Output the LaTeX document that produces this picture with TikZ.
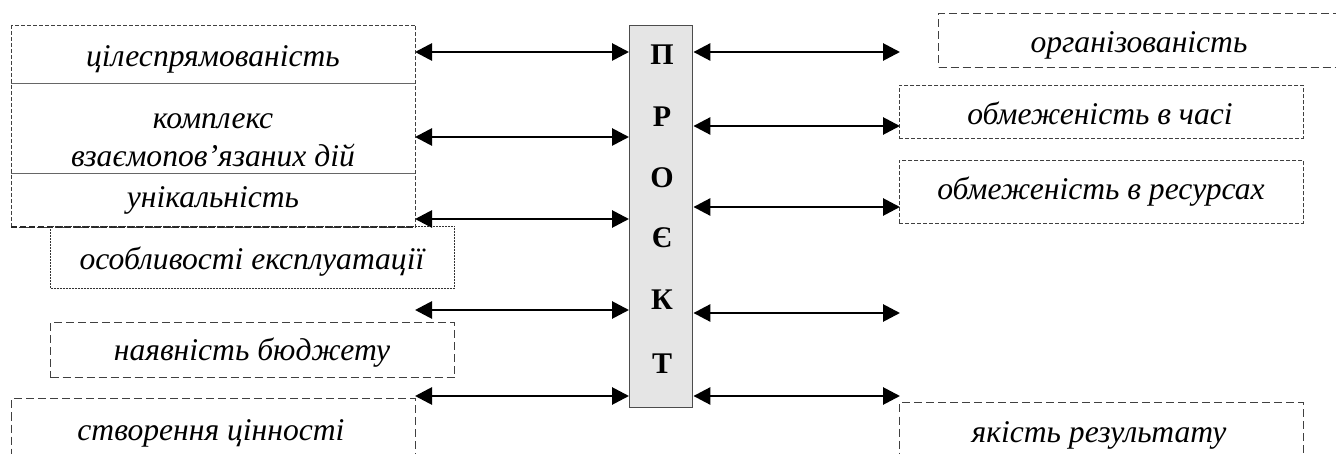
\documentclass[tikz,border=0pt]{standalone}
\usepackage{fontspec}
\setmainfont{Liberation Serif}
\usetikzlibrary{arrows.meta}
\begin{document}
\begin{tikzpicture}[x=1pt,y=-1pt,
  bx/.style={draw=none,inner sep=0pt,anchor=north west},
  lbl/.style={font=\fontsize{31.6}{38}\selectfont\itshape,align=center,inner sep=0pt,anchor=base},
  ltr/.style={font=\fontsize{30}{32}\selectfont\bfseries,inner sep=0pt,anchor=base},
  finedash/.style={draw=black!75,line width=0.9pt,dash pattern=on 4pt off 2pt},
  medash/.style={draw=black!75,line width=1pt,dash pattern=on 8pt off 4pt},
  dotline/.style={draw=black!80,line width=1pt,dash pattern=on 2pt off 1pt},
  bolddash/.style={draw=black!85,line width=2pt,dash pattern=on 6pt off 3pt},
  sep/.style={draw=black!60,line width=1pt},
  dbl/.style={line width=2.8pt,{Triangle[length=17pt,width=17pt]}-{Triangle[length=17pt,width=17pt]}}
]
\clip (0,0) rectangle (1336,454);
\fill[white] (0,0) rectangle (1336,454);

% center box
\node[bx,draw=black!70,fill=black!10,line width=1.4pt,minimum width=63pt,minimum height=382pt] (proj) at (629,25) {};
\node[ltr] (t1) at (662,65) {П};
\node[ltr] (t2) at (662,127) {Р};
\node[ltr] (t3) at (662,188) {О};
\node[ltr] (t4) at (662,248) {Є};
\node[ltr] (t5) at (662,310) {К};
\node[ltr] (t6) at (662,373) {Т};

% left boxes
\node[bx,minimum width=404pt,minimum height=58pt] (A) at (11,25) {};
\node[bx,minimum width=404pt,minimum height=90pt] (B) at (11,83) {};
\node[bx,minimum width=404pt,minimum height=54pt] (C) at (11,173) {};
\draw[finedash] (A.north west) rectangle (C.south east);
\draw[sep] (A.south west) -- (A.south east);
\draw[sep] (B.south west) -- (B.south east);
\draw[bolddash] (C.south west) -- (C.south east);
\node[lbl] (la) at (213,67) {цілеспрямованість};
\node[lbl,anchor=center] (lb) at (213,140) {комплекс\\взаємопов’язаних дій};
\node[lbl] (lc) at (213,208) {унікальність};

\node[bx,dotline,minimum width=404pt,minimum height=62pt] (D) at (50,226) {};
\node[lbl] (ld) at (252,270) {особливості експлуатації};
\node[bx,medash,minimum width=404pt,minimum height=55pt] (E) at (50,322) {};
\node[lbl] (le) at (252,360) {наявність бюджету};
\node[bx,medash,minimum width=404pt,minimum height=90pt] (F) at (11,398) {};
\node[lbl] (lf) at (211,440) {створення цінності};

% right boxes
\node[bx,medash,minimum width=420pt,minimum height=54pt] (R1) at (938,13) {};
\node[lbl] (lr1) at (1139,53) {організованість};
\node[bx,finedash,minimum width=404pt,minimum height=53pt] (R2) at (899,85) {};
\node[lbl] (lr2) at (1100,125) {обмеженість в часі};
\node[bx,finedash,minimum width=404pt,minimum height=63pt] (R3) at (899,160) {};
\node[lbl] (lr3) at (1101,200) {обмеженість в ресурсах};
\node[bx,medash,minimum width=404pt,minimum height=90pt] (R4) at (899,402) {};
\node[lbl] (lr4) at (1099,442) {якість результату};

% free ends
\coordinate (l1) at (415,52);
\coordinate (l2) at (415,137);
\coordinate (l3) at (415,219);
\coordinate (l4) at (415,310);
\coordinate (l5) at (415,396);
\coordinate (r1) at (900,52);
\coordinate (r2) at (900,126);
\coordinate (r3) at (900,207);
\coordinate (r4) at (900,313);
\coordinate (r5) at (900,396);

\draw[dbl] (l1) -- (proj.west |- l1);
\draw[dbl] (l2) -- (proj.west |- l2);
\draw[dbl] (l3) -- (proj.west |- l3);
\draw[dbl] (l4) -- (proj.west |- l4);
\draw[dbl] (l5) -- (proj.west |- l5);
\draw[dbl] (proj.east |- r1) -- (r1);
\draw[dbl] (proj.east |- r2) -- (r2);
\draw[dbl] (proj.east |- r3) -- (r3);
\draw[dbl] (proj.east |- r4) -- (r4);
\draw[dbl] (proj.east |- r5) -- (r5);
\end{tikzpicture}
\end{document}
